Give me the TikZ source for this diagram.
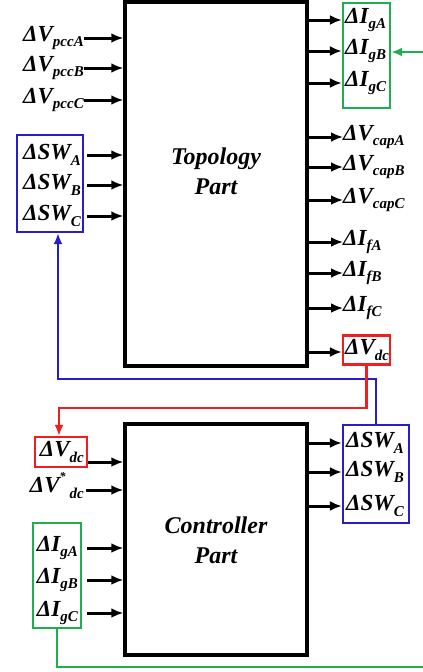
\documentclass[tikz,border=0pt]{standalone}
\usepackage{fontspec}
\setmainfont{Liberation Serif}
\usetikzlibrary{positioning,arrows.meta}
\definecolor{fbgreen}{RGB}{30,175,80}
\definecolor{fbblue}{RGB}{40,30,200}
\definecolor{fbred}{RGB}{240,30,30}
\tikzstyle{signal flow}=[
    x=1pt,y=-1pt,
    font=\fontsize{23}{26}\selectfont\bfseries\itshape,
]
\tikzstyle{block}=[draw, line width=3.5pt, inner sep=0pt]
\tikzstyle{blocktext}=[align=center, font=\fontsize{24}{30}\selectfont\bfseries\itshape]
\tikzstyle{inlbl}=[anchor=east, inner sep=0pt]
\tikzstyle{outlbl}=[anchor=west, inner sep=0pt]
\tikzstyle{sig}=[-{Latex[length=12pt,width=10pt]}, line width=3pt]
\tikzstyle{group}=[draw, line width=2.2pt, inner sep=0pt]
\tikzstyle{fb}=[-{Latex[length=11pt,width=9pt]}, line width=2.2pt]
\newcommand{\dsig}[2]{Δ#1\raisebox{-0.55ex}{\fontsize{15}{15}\selectfont#2}}
\newcommand{\dref}[2]{Δ#1\raisebox{1.1ex}{\fontsize{12}{12}\selectfont*}\hspace{4pt}\raisebox{-0.6ex}{\fontsize{15}{15}\selectfont#2}}

\begin{document}
\begin{tikzpicture}[signal flow]
    \useasboundingbox (0,0) rectangle (423,672);

    % blocks
    \node[block, minimum width=182pt, minimum height=364pt] (topo) at (216,184) {};
    \node[blocktext] (topotext) at (216,171) {Topology\\Part};
    \node[block, minimum width=182pt, minimum height=231pt] (ctrl) at (216,539.5) {};
    \node[blocktext] (ctrltext) at (216,540) {Controller\\Part};

    % topology inputs
    \node[inlbl] (vpcca) at (84,38) {\dsig{V}{pccA}};
    \node[inlbl] (vpccb) at (84,68) {\dsig{V}{pccB}};
    \node[inlbl] (vpccc) at (84,100) {\dsig{V}{pccC}};
    \node[group, draw=fbblue, minimum width=66pt, minimum height=97pt] (swin) at (50,183.5) {};
    \node[inlbl] (swa) at (81,155) {\dsig{SW}{A}};
    \node[inlbl] (swb) at (81,185) {\dsig{SW}{B}};
    \node[inlbl] (swc) at (81,216) {\dsig{SW}{C}};

    \draw[sig] (vpcca) -- (vpcca -| topo.west);
    \draw[sig] (vpccb) -- (vpccb -| topo.west);
    \draw[sig] (vpccc) -- (vpccc -| topo.west);
    \draw[sig] ([xshift=3pt]swin.east |- swa) -- (swa -| topo.west);
    \draw[sig] ([xshift=3pt]swin.east |- swb) -- (swb -| topo.west);
    \draw[sig] ([xshift=3pt]swin.east |- swc) -- (swc -| topo.west);

    % topology outputs
    \node[group, draw=fbgreen, minimum width=47pt, minimum height=105pt] (igtop) at (366.5,55.5) {};
    \node[outlbl] (iga) at (345,20) {\dsig{I}{gA}};
    \node[outlbl] (igb) at (345,51) {\dsig{I}{gB}};
    \node[outlbl] (igc) at (345,83) {\dsig{I}{gC}};
    \node[outlbl] (vcapa) at (343,137) {\dsig{V}{capA}};
    \node[outlbl] (vcapb) at (343,167) {\dsig{V}{capB}};
    \node[outlbl] (vcapc) at (343,200) {\dsig{V}{capC}};
    \node[outlbl] (ifa) at (343,242) {\dsig{I}{fA}};
    \node[outlbl] (ifb) at (343,273) {\dsig{I}{fB}};
    \node[outlbl] (ifc) at (343,308) {\dsig{I}{fC}};
    \node[group, draw=fbred, minimum width=47pt, minimum height=29pt] (dctop) at (366.5,350) {};
    \node[outlbl] (vdc) at (345,350) {\dsig{V}{dc}};

    \draw[sig] (topo.east |- iga) -- (igtop.west |- iga);
    \draw[sig] (topo.east |- igb) -- (igtop.west |- igb);
    \draw[sig] (topo.east |- igc) -- (igtop.west |- igc);
    \draw[sig] (topo.east |- vcapa) -- (vcapa);
    \draw[sig] (topo.east |- vcapb) -- (vcapb);
    \draw[sig] (topo.east |- vcapc) -- (vcapc);
    \draw[sig] (topo.east |- ifa) -- (ifa);
    \draw[sig] (topo.east |- ifb) -- (ifb);
    \draw[sig] (topo.east |- ifc) -- (ifc);
    \draw[sig] ([yshift=-2pt]topo.east |- vdc) -- ([yshift=-2pt]dctop.west |- vdc);

    % controller inputs
    \node[group, draw=fbred, minimum width=52pt, minimum height=30pt] (dcin) at (61,452) {};
    \node[inlbl] (vdcin) at (84,452) {\dsig{V}{dc}};
    \node[inlbl] (vdcref) at (84,486) {\dref{V}{dc}};
    \node[group, draw=fbgreen, minimum width=48pt, minimum height=105pt] (igbot) at (57,575.5) {};
    \node[inlbl] (igai) at (78,548) {\dsig{I}{gA}};
    \node[inlbl] (igbi) at (78,580) {\dsig{I}{gB}};
    \node[inlbl] (igci) at (78,613) {\dsig{I}{gC}};

    \draw[sig] ([yshift=-10pt]dcin.east) -- ([yshift=-10pt]dcin.east -| ctrl.west);
    \draw[sig] ([xshift=2pt,yshift=-4pt]vdcref.east) -- ([yshift=-4pt]vdcref.east -| ctrl.west);
    \draw[sig] ([xshift=5pt]igbot.east |- igai) -- (igai -| ctrl.west);
    \draw[sig] ([xshift=5pt]igbot.east |- igbi) -- (igbi -| ctrl.west);
    \draw[sig] ([xshift=5pt]igbot.east |- igci) -- (igci -| ctrl.west);

    % controller outputs
    \node[group, draw=fbblue, minimum width=66pt, minimum height=98pt] (swout) at (376,474) {};
    \node[outlbl] (swoa) at (346,443) {\dsig{SW}{A}};
    \node[outlbl] (swob) at (346,472) {\dsig{SW}{B}};
    \node[outlbl] (swoc) at (346,506) {\dsig{SW}{C}};

    \draw[sig] (ctrl.east |- swoa) -- (swout.west |- swoa);
    \draw[sig] (ctrl.east |- swob) -- (swout.west |- swob);
    \draw[sig] (ctrl.east |- swoc) -- (swout.west |- swoc);

    % feedback paths
    \coordinate (blueturn) at (58,379);
    \coordinate (redturn) at (59,408);
    \coordinate (gin) at (423,52);
    \coordinate (gout) at (423,667);
    \draw[fb, fbblue] (swout.north) |- (blueturn) -- ([xshift=8pt]swin.south);
    \draw[fb, fbred] (dctop.south) |- (redturn) -- (redturn |- dcin.north);
    \draw[fb, fbgreen] (gin) -- (igtop.east |- gin);
    \draw[fbgreen, line width=2.2pt] (igbot.south) |- (gout);
\end{tikzpicture}
\end{document}
